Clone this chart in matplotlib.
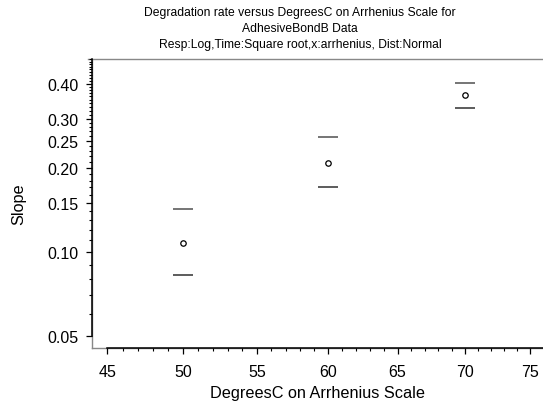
import numpy as np
import matplotlib
matplotlib.use("Agg")
import matplotlib.pyplot as plt
from matplotlib.ticker import FixedLocator, FixedFormatter, NullFormatter
from matplotlib.lines import Line2D

plt.rcParams['font.family'] = ['Liberation Sans', 'DejaVu Sans']

# data
temps = [50, 60, 70]
slope = [0.108, 0.208, 0.363]
upper = [0.142, 0.257, 0.403]
lower = [0.083, 0.170, 0.326]

x_ticks = [45, 50, 55, 60, 65, 70, 75]
y_ticks = [0.05, 0.10, 0.15, 0.20, 0.25, 0.30, 0.40]


def arrh(t):
    return -1.0 / (np.asarray(t, dtype=float) + 273.15)


def arrh_inv(v):
    return -1.0 / np.asarray(v, dtype=float) - 273.15


fig = plt.figure(figsize=(5.43, 4.06), dpi=100)
ax = fig.add_axes([92 / 543, 1 - 349 / 406, 1 - 92 / 543, (349 - 60) / 406])

ax.set_xscale('function', functions=(arrh, arrh_inv))
ax.set_yscale('log')
ax.set_xlim(44.0, 76.0)
ax.set_ylim(0.0453, 0.49)

# bounds and points
ax.plot(temps, upper, ls='none', marker='_', ms=13.7, mew=1.1, color='#505050')
ax.plot(temps, lower, ls='none', marker='_', ms=13.7, mew=1.1, color='#303030')
ax.plot(temps, slope, ls='none', marker='o', ms=3.9, mew=0.9, mfc='white', mec='black')

# ticks
ax.xaxis.set_major_locator(FixedLocator(x_ticks))
ax.xaxis.set_major_formatter(FixedFormatter([str(t) for t in x_ticks]))
ax.xaxis.set_minor_locator(FixedLocator([t for t in range(45, 76) if t % 5]))
ax.xaxis.set_minor_formatter(NullFormatter())

ax.yaxis.set_major_locator(FixedLocator(y_ticks))
ax.yaxis.set_major_formatter(FixedFormatter(['%.2f' % v for v in y_ticks]))
minor_y = [k / 100 for k in range(5, 50) if k not in (5, 10, 15, 20, 25, 30, 40)]
ax.yaxis.set_minor_locator(FixedLocator(minor_y))
ax.yaxis.set_minor_formatter(NullFormatter())

ax.tick_params(which='major', direction='out', length=4.5, width=0.9, labelsize=11.5,
               colors='black')
ax.tick_params(which='minor', direction='out', length=2.5, width=0.8)
ax.tick_params(axis='x', which='major', pad=7)
ax.tick_params(axis='y', which='major', pad=5)

# frame: gray box, black axis lines over the tick range
for s in ['top', 'right']:
    ax.spines[s].set_visible(False)
ax.spines['left'].set_bounds(0.05, 0.49)
ax.spines['bottom'].set_bounds(45, 76)
ax.spines['left'].set_linewidth(1.1)
ax.spines['bottom'].set_linewidth(1.1)
for xs, ys in [([0, 1], [0, 0]), ([0, 0], [0, 1]), ([-0.009, 1], [1, 1])]:
    ax.add_line(Line2D(xs, ys, transform=ax.transAxes, color='#888888', lw=1.0,
                       clip_on=False, zorder=0.5))

ax.set_xlabel('DegreesC on Arrhenius Scale', fontsize=11.7, labelpad=4)
ax.set_ylabel('Slope', fontsize=11.7, labelpad=15)

fig.text(300 / 543, 1 - 29 / 406,
         'Degradation rate versus DegreesC on Arrhenius Scale for\nAdhesiveBondB Data\n'
         'Resp:Log,Time:Square root,x:arrhenius, Dist:Normal',
         ha='center', va='center', fontsize=8.7, linespacing=1.4)

fig.savefig('out.png', dpi=100)
